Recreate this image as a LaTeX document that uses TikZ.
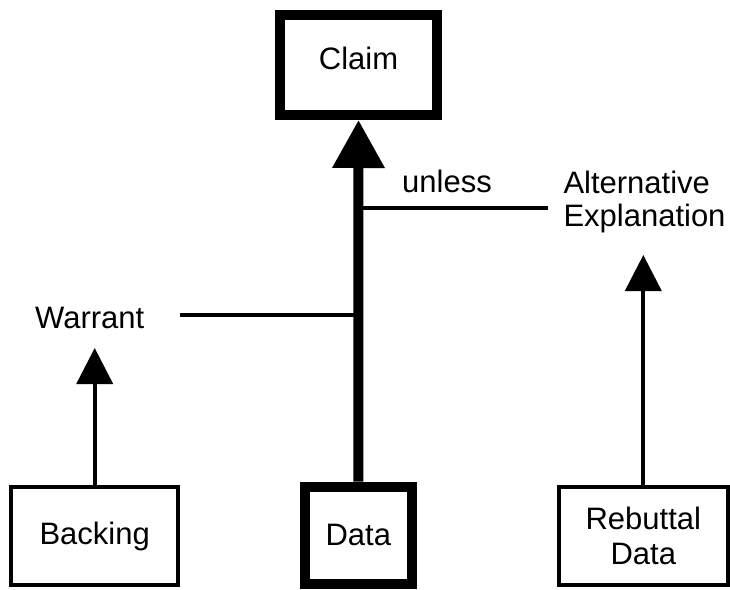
\documentclass[tikz,border=0pt]{standalone}
\usepackage{fontspec}
\setmainfont{Liberation Sans}
\usetikzlibrary{arrows.meta}
\begin{document}
\begin{tikzpicture}[x=1pt,y=-1pt,
  every node/.style={font=\fontsize{31}{33.3}\selectfont},
  thickbox/.style={draw,line width=10pt,inner sep=0pt},
  thinbox/.style={draw,line width=4pt,inner sep=0pt},
  lbl/.style={inner sep=0pt,anchor=base west},
  thinline/.style={line width=4pt},
  thickarrow/.style={line width=10pt,-{Triangle[length=48pt,width=50pt]}},
  thinarrow/.style={line width=4pt,-{Triangle[length=36pt,width=36pt]}}]
\useasboundingbox[fill=white] (0,0) rectangle (730,589);

\node[thickbox,minimum width=157pt,minimum height=100pt,text depth=14pt] (claim) at (358.5,65) {Claim};
\node[thickbox,minimum width=106.7pt,minimum height=97.3pt] (data) at (358.3,535.3) {Data};
\node[thinbox,minimum width=166.7pt,minimum height=98.3pt] (backing) at (94.7,536.2) {Backing};
\node[thinbox,minimum width=169.3pt,minimum height=98.3pt,align=center,font=\fontsize{31}{35}\selectfont] (rebuttal) at (643.3,536.2) {Rebuttal\\Data};

\node[lbl] (unless) at (402,192.7) {unless};
\node[lbl] (warrant) at (35,328.3) {Warrant};
\node[lbl,align=left] (alt) at (563.3,226.7) {Alternative\\Explanation};

\coordinate (wl) at (180,315);
\coordinate (wj) at (358.5,315);
\coordinate (uj) at (358.5,208);
\coordinate (ur) at (548,208);
\coordinate (wtip) at (94.7,348);
\coordinate (atip) at (643.3,255);

\draw[thinline] (wl) -- (wj);
\draw[thinline] (uj) -- (ur);
\draw[thickarrow] (data.north) -- (claim.south);
\draw[thinarrow] (backing.north) -- (wtip);
\draw[thinarrow] (rebuttal.north) -- (atip);
\end{tikzpicture}
\end{document}
